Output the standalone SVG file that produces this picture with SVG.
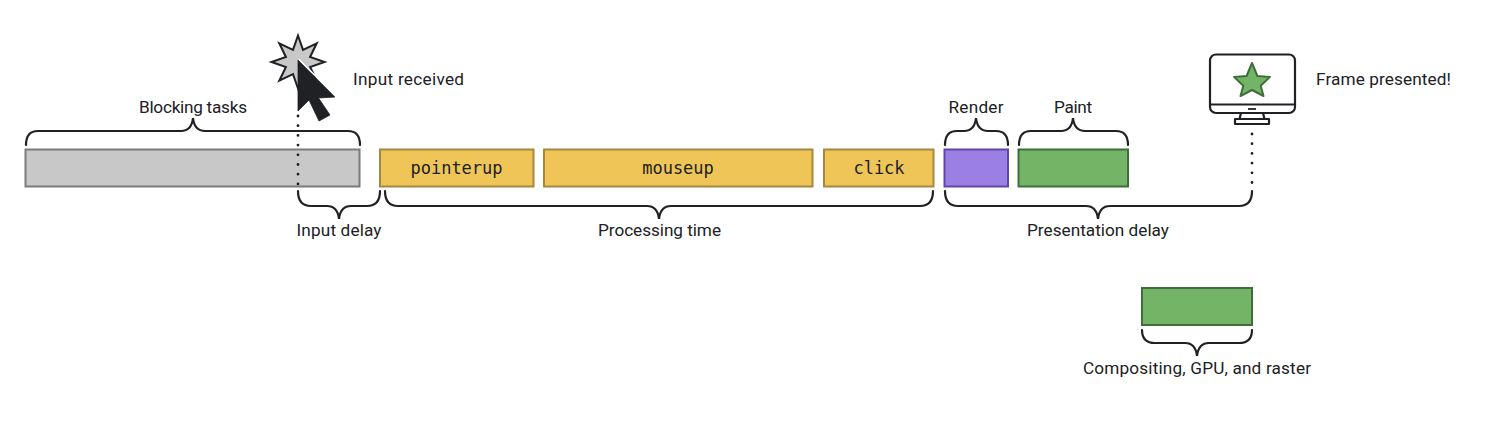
<svg xmlns="http://www.w3.org/2000/svg" width="1500" height="428" viewBox="0 0 1500 428">
<style>
text{font-family:"Roboto","Liberation Sans",sans-serif;font-size:17.200px;fill:#202124}
.m{font-family:"DejaVu Sans Mono","Liberation Mono",monospace;font-size:17px;text-anchor:middle;font-weight:500}
.c{text-anchor:middle}
.bar{stroke-width:2}
.gray{fill:#c8c8c8;stroke:#7b7b7b}
.yellow{fill:#efc558;stroke:#a5873f}
.purple{fill:#9c7fe4;stroke:#5d49a3}
.green{fill:#74b467;stroke:#3f6f38}
.br{fill:none;stroke:#202124;stroke-width:2.200;stroke-linecap:round}
.dot{fill:none;stroke:#202124;stroke-width:2.800;stroke-linecap:round;stroke-dasharray:0 9.700}
.ic{fill:none;stroke:#202124;stroke-width:2.200;stroke-linejoin:round}
</style>
<g id="node-blocking"><rect class="bar gray" x="25.500" y="149.500" width="334" height="37"/><text class="c" x="193" y="113" textLength="108">Blocking tasks</text></g>
<g id="node-pointerup"><rect class="bar yellow" x="380" y="149.500" width="153.500" height="37"/><text class="m" x="456.500" y="173.500">pointerup</text></g>
<g id="node-mouseup"><rect class="bar yellow" x="544" y="149.500" width="268.500" height="37"/><text class="m" x="678" y="173.500">mouseup</text></g>
<g id="node-click"><rect class="bar yellow" x="824" y="149.500" width="109.500" height="37"/><text class="m" x="879" y="173.500">click</text></g>
<g id="node-render"><rect class="bar purple" x="944.500" y="149.500" width="63.500" height="37"/><text class="c" x="976" y="113" textLength="55">Render</text></g>
<g id="node-paint"><rect class="bar green" x="1018.500" y="149.500" width="109.500" height="37"/><text class="c" x="1073" y="113" textLength="38">Paint</text></g>
<g id="node-compositing"><rect class="bar green" x="1142" y="288" width="110" height="37"/><text class="c" x="1197" y="373.500" textLength="228">Compositing, GPU, and raster</text></g>
<g id="labels"><text class="c" x="339" y="236" textLength="85">Input delay</text><text class="c" x="659.500" y="236" textLength="123">Processing time</text><text class="c" x="1098" y="236" textLength="142">Presentation delay</text></g>
<g id="connectors">
<path class="dot" d="M298 116V186"/>
<path class="dot" d="M1252 134V192"/>
<path class="br" d="M26 145C26 136 30 131 38 131H181C188 131 192 127 193 118C194 127 198 131 205 131H348C356 131 360 136 360 145"/>
<path class="br" d="M945 145C945 136 949 131 957 131H964C971 131 975 127 976 118C977 127 981 131 988 131H996C1004 131 1008 136 1008 145"/>
<path class="br" d="M1019 145C1019 136 1023 131 1031 131H1061C1068 131 1072 127 1073 118C1074 127 1078 131 1085 131H1116C1124 131 1128 136 1128 145"/>
<path class="br" d="M298 191C298 201 302 206 311 206H327C334 206 338 210 339 219C340 210 344 206 351 206H367C376 206 380 201 380 191"/>
<path class="br" d="M385 191C385 201 389 206 398 206H647C654 206 658 210 659 219C660 210 664 206 671 206H920C929 206 933 201 933 191"/>
<path class="br" d="M945 191C945 201 949 206 958 206H1086C1093 206 1097 210 1098 219C1099 210 1103 206 1110 206H1239C1248 206 1252 201 1252 191"/>
<path class="br" d="M1142 330C1142 339 1146 343 1155 343H1185C1192 343 1196 347 1197 356C1198 347 1202 343 1209 343H1239C1248 343 1252 339 1252 330"/>
</g>
<g id="node-input-received">
<polygon points="298,35.500 303,49.900 316.700,43.300 310.100,57 324.500,62 310.100,67 316.700,80.700 303,74.100 298,88.500 293,74.100 279.300,80.700 285.900,67 271.500,62 285.900,57 279.300,43.300 293,49.900" fill="#c8c8c8" stroke="#202124" stroke-width="2" stroke-linejoin="miter" stroke-miterlimit="6"/>
<polygon points="298,60 335,97 318.500,98 330,115 319,121 309,100 298,111" fill="#202124" stroke="#202124" stroke-width="0.800"/>
<path d="M298 60L335 97" stroke="#fff" stroke-width="1.500" fill="none" transform="translate(0.800 -0.800)"/>
<text x="353" y="85" textLength="111">Input received</text>
</g>
<g id="node-frame-presented">
<rect class="ic" x="1210" y="54.500" width="85" height="58.500" rx="6"/>
<path class="ic" d="M1210 104.500H1295M1241 113L1239.500 119M1263 113L1264.500 119"/>
<rect class="ic" x="1235" y="119" width="34" height="5"/>
<path d="M1248 109H1256" stroke="#202124" stroke-width="1.800"/>
<polygon points="1252,63 1257.400,76 1270,76.900 1260.700,85.800 1263.500,96 1252,90 1240.500,96 1243.300,85.800 1234,76.900 1246.600,76" fill="#74b467" stroke="#3f6f38" stroke-width="2" stroke-linejoin="round"/>
<text x="1316" y="85" textLength="135">Frame presented!</text>
</g>
</svg>
